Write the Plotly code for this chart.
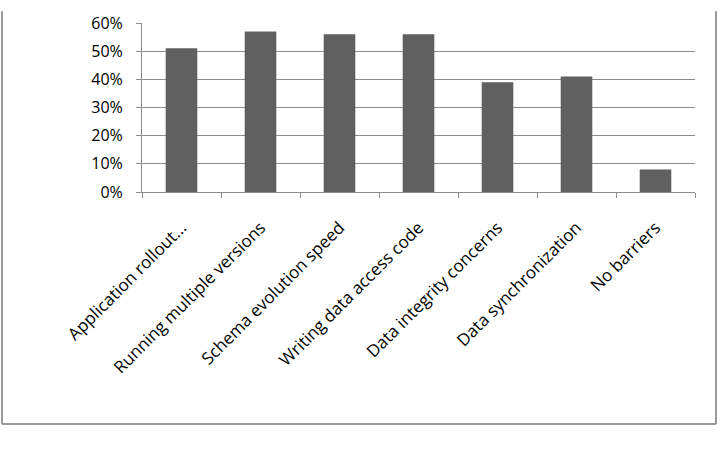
import plotly.graph_objects as go

categories = ["Application rollout...", "Running multiple versions", "Schema evolution speed",
              "Writing data access code", "Data integrity concerns", "Data synchronization", "No barriers"]
values = [0.51, 0.57, 0.56, 0.56, 0.39, 0.41, 0.08]
y_ticks = [0, 0.1, 0.2, 0.3, 0.4, 0.5, 0.6]
y_labels = ["0%", "10%", "20%", "30%", "40%", "50%", "60%"]

GRID = "#8c8c8c"
fig = go.Figure(go.Bar(x=categories, y=values, marker=dict(color="#606060", line=dict(width=0)), width=0.4))

PH = 172.0
PW = 553.0
xl = -140/PW
xr = 1 + 21/PW
yb = -(428-192)/PH
yt = 1 + 12/PH
fig.update_layout(
    width=720, height=450,
    margin=dict(l=142, r=25, t=20, b=258),
    paper_bgcolor="white", plot_bgcolor="white",
    font=dict(family="Open Sans", size=16, color="black"),
    showlegend=False,
    shapes=[
        dict(type="line", xref="paper", yref="paper", x0=xl, x1=xl, y0=yb, y1=yt,
             line=dict(color="#999999", width=2)),
        dict(type="line", xref="paper", yref="paper", x0=xr, x1=xr, y0=yb, y1=yt,
             line=dict(color="#999999", width=2)),
        dict(type="line", xref="paper", yref="paper", x0=xl, x1=xr, y0=yb, y1=yb,
             line=dict(color="#999999", width=2)),
    ],
)
fig.update_yaxes(range=[0, 0.6], tickvals=y_ticks, ticktext=y_labels, showgrid=True, gridcolor=GRID,
                 gridwidth=1, showline=True, linecolor=GRID, ticks="outside", ticklen=5, tickcolor=GRID,
                 ticklabelstandoff=10, zeroline=False)
fig.update_xaxes(tickangle=-45, showline=True, linecolor=GRID, ticks="outside", ticklen=5, tickcolor=GRID,
                 tickson="boundaries", showgrid=False, ticklabelstandoff=18, tickfont=dict(size=17))

fig.write_html("out.html")
